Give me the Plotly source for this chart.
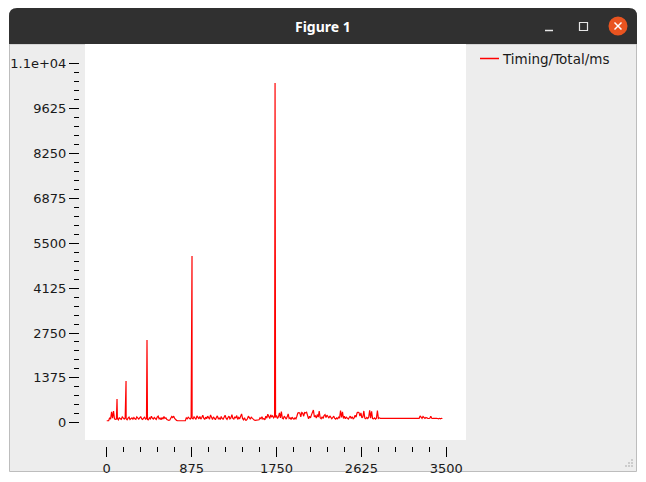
import plotly.graph_objects as go

# ---------------- data ----------------
series_name = "Timing/Total/ms"
sample_step = 10  # one sample every 10 units along x

# baseline timing samples (ms), x = 0, 10, 20, ...
base_y = [
    60, 60, 65, 150, 110, 330, 140, 360, 120, 100,
    110, 130, 90, 160, 120, 100, 180, 130, 110, 150,
    120, 90, 140, 170, 100, 130, 150, 110, 160, 120,
    100, 180, 130, 110, 150, 190, 120, 100, 140, 170,
    110, 130, 100, 90, 150, 120, 200, 140, 110, 160,
    130, 100, 170, 200, 120, 140, 90, 160, 110, 190,
    130, 150, 100, 70, 70, 80, 140, 190, 160, 200,
    130, 90, 70, 60, 60, 60, 60, 60, 60, 60,
    60, 60, 150, 120, 170, 130, 110, 160, 140, 120,
    180, 130, 100, 210, 150, 120, 190, 110, 160, 230,
    140, 100, 170, 120, 200, 150, 110, 240, 130, 100,
    180, 150, 90, 160, 210, 120, 140, 100, 190, 130,
    110, 170, 230, 140, 100, 160, 200, 120, 150, 250,
    130, 110, 180, 140, 220, 100, 160, 120, 190, 270,
    130, 90, 150, 80, 80, 120, 200, 140, 110, 170,
    130, 100, 80, 70, 70, 70, 70, 90, 150, 120,
    180, 110, 130, 90, 200, 140, 260, 170, 130, 240,
    180, 210, 150, 190, 160, 220, 130, 180, 300, 150,
    340, 140, 120, 200, 160, 110, 180, 270, 130, 150,
    100, 170, 130, 110, 150, 120, 200, 300, 310, 300,
    180, 310, 290, 200, 310, 300, 320, 160, 120, 200,
    150, 240, 300, 390, 180, 210, 140, 250, 170, 360,
    150, 120, 180, 130, 220, 250, 160, 230, 190, 140,
    210, 170, 120, 160, 200, 130, 110, 150, 120, 170,
    150, 370, 160, 330, 130, 200, 120, 170, 140, 110,
    160, 200, 130, 180, 120, 150, 230, 170, 300, 320,
    310, 200, 300, 150, 180, 360, 140, 120, 160, 130,
    170, 380, 140, 350, 130, 120, 150, 110, 140, 370,
    130, 150, 135, 135, 130, 135, 140, 135, 135, 130,
    135, 135, 140, 135, 130, 135, 135, 135, 140, 135,
    135, 130, 135, 135, 135, 140, 135, 130, 135, 135,
    135, 135, 140, 135, 135, 130, 135, 135, 140, 135,
    135, 135, 130, 210, 150, 135, 190, 140, 130, 160,
    135, 135, 130, 135, 200, 135, 130, 135, 140, 135,
    135, 130, 120, 135, 120, 135, 130,
]
base_x = [i * sample_step for i in range(len(base_y))]

# isolated large spikes
spike_x = [106, 199, 415, 879, 1735]
spike_y = [727, 1278, 2535, 5110, 10414]

# axis ticks
y_tickvals = [0, 1375, 2750, 4125, 5500, 6875, 8250, 9625, 11000]
y_ticktext = ["0", "1375", "2750", "4125", "5500", "6875", "8250", "9625", "1.1e+04"]
x_tickvals = [0, 875, 1750, 2625, 3500]
x_ticktext = ["0", "875", "1750", "2625", "3500"]
y_minor = [v for v in range(0, 11001, 275) if v not in y_tickvals]
x_minor = [v for v in range(0, 3501, 175) if v not in x_tickvals]

pts = sorted(zip(base_x + spike_x, base_y + spike_y))
xs = [p[0] for p in pts]
ys = [p[1] for p in pts]

# ---------------- figure ----------------
W, H = 646, 482


def px(x):
    return x / W


def py(y):
    return 1 - y / H


fig = go.Figure()
fig.add_trace(go.Scatter(x=xs, y=ys, mode="lines", name=series_name,
                         line=dict(color="#ff0000", width=1.2), showlegend=False))

font = dict(family="DejaVu Sans", size=13, color="#1a1a1a")

fig.update_layout(
    width=W, height=H, autosize=False,
    margin=dict(l=0, r=0, t=0, b=0, pad=0),
    paper_bgcolor="#ffffff", plot_bgcolor="#ffffff",
    font=font,
    xaxis=dict(domain=[px(85), px(466)], range=[-224, 3703], anchor="free",
               position=py(446), showgrid=False, zeroline=False, showline=False,
               ticks="outside", ticklen=10, tickwidth=1, tickcolor="#000000",
               tickmode="array", tickvals=x_tickvals, ticktext=x_ticktext,
               tickfont=font,
               minor=dict(tickmode="array", tickvals=x_minor, ticks="outside",
                          ticklen=5, tickwidth=1, tickcolor="#000000", showgrid=False)),
    yaxis=dict(domain=[py(440), py(44)], range=[-530, 11609], anchor="free",
               position=px(79), showgrid=False, zeroline=False, showline=False,
               ticks="outside", ticklen=10, tickwidth=1, tickcolor="#000000",
               tickmode="array", tickvals=y_tickvals, ticktext=y_ticktext,
               tickfont=font,
               minor=dict(tickmode="array", tickvals=y_minor, ticks="outside",
                          ticklen=5, tickwidth=1, tickcolor="#000000", showgrid=False)),
)

shapes = []
# window body
shapes.append(dict(type="rect", xref="paper", yref="paper", layer="below",
                   x0=px(9.5), x1=px(636.5), y0=py(471.5), y1=py(44),
                   fillcolor="#ededed", line=dict(color="#bdbdbd", width=1)))
# white view box (plot area)
shapes.append(dict(type="rect", xref="paper", yref="paper", layer="below",
                   x0=px(85), x1=px(466), y0=py(440), y1=py(44),
                   fillcolor="#ffffff", line=dict(width=0)))
# title bar with rounded top corners
r = 8
path = (f"M {px(9)},{py(44)} L {px(9)},{py(8 + r)} Q {px(9)},{py(8)} {px(9 + r)},{py(8)} "
        f"L {px(637 - r)},{py(8)} Q {px(637)},{py(8)} {px(637)},{py(8 + r)} "
        f"L {px(637)},{py(44)} Z")
shapes.append(dict(type="path", xref="paper", yref="paper", layer="below", path=path,
                   fillcolor="#303030", line=dict(width=0)))
# close button
shapes.append(dict(type="circle", xref="paper", yref="paper",
                   x0=px(608.5), x1=px(627.5), y0=py(35.5), y1=py(16.5),
                   fillcolor="#e95420", line=dict(width=0)))
for (a, b, c, d) in [(614.5, 22.5, 621.5, 29.5), (614.5, 29.5, 621.5, 22.5)]:
    shapes.append(dict(type="line", xref="paper", yref="paper",
                       x0=px(a), y0=py(b), x1=px(c), y1=py(d),
                       line=dict(color="#ffffff", width=1.5)))
# minimize
shapes.append(dict(type="line", xref="paper", yref="paper",
                   x0=px(545), x1=px(553), y0=py(30.5), y1=py(30.5),
                   line=dict(color="#e6e6e6", width=1.5)))
# maximize
shapes.append(dict(type="rect", xref="paper", yref="paper",
                   x0=px(579.5), x1=px(587.5), y0=py(30.5), y1=py(22.5),
                   line=dict(color="#e6e6e6", width=1.2)))
# resize grip dots
for (gx, gy) in [(632, 460), (629, 463), (632, 463), (626, 466), (629, 466), (632, 466)]:
    shapes.append(dict(type="rect", xref="paper", yref="paper",
                       x0=px(gx - 0.7), x1=px(gx + 0.7), y0=py(gy + 0.7), y1=py(gy - 0.7),
                       fillcolor="#b0b0b0", line=dict(width=0)))
# legend sample line
shapes.append(dict(type="line", xref="paper", yref="paper",
                   x0=px(480), x1=px(499), y0=py(58.5), y1=py(58.5),
                   line=dict(color="#ff0000", width=1.5)))

annotations = [
    dict(text="<b>Figure 1</b>", xref="paper", yref="paper", x=px(323), y=py(26),
         xanchor="center", yanchor="middle", showarrow=False,
         font=dict(family="Noto Sans", size=14, color="#ffffff")),
    dict(text=series_name, xref="paper", yref="paper", x=px(500), y=py(59),
         xanchor="left", yanchor="middle", showarrow=False,
         font=dict(family="DejaVu Sans", size=13.5, color="#1a1a1a")),
]

fig.update_layout(shapes=shapes, annotations=annotations)

fig.write_html("out.html", config={"displayModeBar": False},
               post_script="document.body.style.margin='0';document.body.style.overflow='hidden';")
